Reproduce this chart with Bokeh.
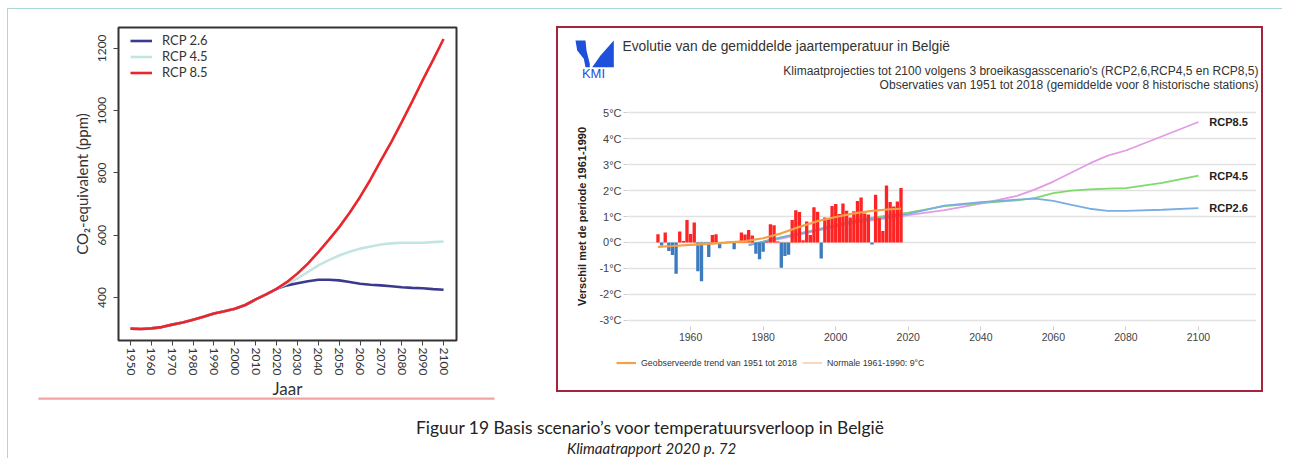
import math
from bokeh.plotting import figure
from bokeh.models import (Range1d, FixedTicker, PrintfTickFormatter, Legend, LegendItem,
                          Label, PolyAnnotation, BoxAnnotation, ColumnDataSource)
from bokeh.layouts import row, column
from bokeh.embed import file_html
from bokeh.resources import INLINE
from bokeh.core.properties import value

# ---------------- data: left chart (CO2-equivalent, ppm) ----------------
co2_years = [1950, 1955, 1960, 1965, 1970, 1975, 1980, 1985, 1990, 1995, 2000, 2005, 2010, 2015, 2020,
             2025, 2030, 2035, 2040, 2045, 2050, 2055, 2060, 2065, 2070, 2075, 2080, 2085, 2090, 2095, 2100]
co2_hist = [300, 299, 301, 305, 313, 320, 329, 338, 349, 356, 364, 376, 394, 410, 428]
co2_rcp26 = co2_hist + [439, 446, 452, 457, 457, 455, 450, 444, 441, 439, 436, 433, 431, 430, 427, 425]
co2_rcp45 = co2_hist + [445, 461, 482, 503, 520, 535, 547, 557, 564, 570, 574, 576, 576, 576, 578, 580]
co2_rcp85 = co2_hist + [450, 477, 509, 546, 585, 626, 672, 723, 779, 840, 900, 964, 1030, 1098, 1163, 1230]
co2_names = ["RCP 2.6", "RCP 4.5", "RCP 8.5"]
co2_xticks = list(range(1950, 2101, 10))
co2_yticks = [400, 600, 800, 1000, 1200]

# ---------------- data: right chart (temperature anomaly, °C) ----------------
obs_years = list(range(1951, 2019))
obs_anom = [0.31, -0.12, 0.38, -0.33, -0.49, -1.21, 0.42, 0.05, 0.86, 0.32,
            0.77, -1.12, -1.50, -0.06, -0.56, 0.29, 0.31, -0.23, -0.03, 0.02,
            0.03, -0.27, 0.02, 0.38, 0.30, 0.48, 0.27, -0.44, -0.65, -0.36,
            0.03, 0.70, 0.66, 0.03, -0.98, -0.53, -0.48, 0.86, 1.24, 1.17,
            0.08, 0.81, 0.29, 1.36, 1.18, -0.62, 0.96, 0.93, 1.41, 1.48,
            1.10, 1.50, 1.22, 0.96, 1.20, 1.60, 1.73, 1.12, 1.08, -0.08,
            1.84, 0.93, 0.44, 2.20, 1.56, 1.39, 1.58, 2.10]
trend_years = [1951, 1955, 1960, 1965, 1970, 1975, 1980, 1985, 1990, 1995, 2000, 2005, 2010, 2015, 2018]
trend_vals = [-0.17, -0.14, -0.10, -0.06, -0.01, 0.05, 0.16, 0.35, 0.60, 0.82, 0.98, 1.12, 1.22, 1.28, 1.30]
normal_years = [1961, 1990]
normal_vals = [0.0, 0.0]
proj_years = [1976, 1985, 1995, 2005, 2015, 2020, 2030, 2040, 2050, 2055, 2060, 2065, 2070, 2075, 2080, 2090, 2100]
proj_rcp85 = [-0.12, 0.15, 0.45, 0.75, 0.95, 1.05, 1.25, 1.50, 1.80, 2.05, 2.35, 2.70, 3.05, 3.35, 3.55, 4.10, 4.65]
proj_rcp45 = [-0.10, 0.20, 0.50, 0.85, 1.05, 1.15, 1.40, 1.52, 1.62, 1.72, 1.90, 2.00, 2.05, 2.08, 2.10, 2.30, 2.58]
proj_rcp26 = [-0.10, 0.18, 0.48, 0.80, 1.00, 1.10, 1.42, 1.55, 1.65, 1.69, 1.60, 1.45, 1.30, 1.22, 1.22, 1.26, 1.32]
proj_names = ["RCP8.5", "RCP4.5", "RCP2.6"]
legend_names = ["Geobserveerde trend van 1951 tot 2018", "Normale 1961-1990: 9°C"]
temp_yticks = [-3, -2, -1, 0, 1, 2, 3, 4, 5]
temp_xticks = [1960, 1980, 2000, 2020, 2040, 2060, 2080, 2100]

LATO = "Lato"
ARIAL = "Liberation Sans"
TREND_COLOR = "#f4a048"
NORMAL_COLOR = "#fbc9a0"

# ======================= LEFT FIGURE =======================
p1 = figure(width=540, height=393, x_range=Range1d(1944.25, 2106.2), y_range=Range1d(262, 1267),
            output_backend="svg", toolbar_location=None, frame_align=False,
            min_border_left=110, min_border_right=92, min_border_top=18, min_border_bottom=62)
p1.outline_line_color = "#333333"
p1.outline_line_width = 2
p1.grid.grid_line_color = None

l26 = p1.line(co2_years, co2_rcp26, line_color="#3b3a8f", line_width=2.6)
l45 = p1.line(co2_years, co2_rcp45, line_color="#c3e5e2", line_width=2.6)
l85 = p1.line(co2_years, co2_rcp85, line_color="#e8262c", line_width=2.6)

p1.xaxis.ticker = FixedTicker(ticks=co2_xticks)
p1.yaxis.ticker = FixedTicker(ticks=co2_yticks)
p1.xaxis.major_label_orientation = "vertical"
p1.yaxis.major_label_orientation = "vertical"
for ax in (p1.xaxis[0], p1.yaxis[0]):
    ax.axis_line_color = "#333333"
    ax.axis_line_width = 1
    ax.major_tick_line_color = "#444444"
    ax.major_tick_out = 5
    ax.major_tick_in = 0
    ax.minor_tick_line_color = None
    ax.major_label_text_font = LATO
    ax.major_label_text_font_size = "12px"
    ax.major_label_text_color = "#333333"
    ax.axis_label_text_font = LATO
    ax.axis_label_text_font_style = "normal"
    ax.axis_label_text_color = "#333333"
p1.xaxis.major_label_standoff = 2
p1.yaxis.major_label_standoff = 7
p1.xaxis.axis_label = "Jaar"
p1.xaxis.axis_label_text_font_size = "17px"
p1.xaxis.axis_label_standoff = 0
p1.yaxis.axis_label = "CO₂-equivalent (ppm)"
p1.yaxis.axis_label_text_font_size = "15px"
p1.yaxis.axis_label_standoff = 5

leg1 = Legend(items=[LegendItem(label=n, renderers=[r]) for n, r in zip(co2_names, [l26, l45, l85])],
              location=(12, 260))
leg1.border_line_color = None
leg1.background_fill_alpha = 0
leg1.label_text_font = LATO
leg1.label_text_font_size = "13px"
leg1.label_text_color = "#333333"
leg1.glyph_width = 22
leg1.glyph_height = 13
leg1.label_height = 13
leg1.label_standoff = 10
leg1.spacing = -4
leg1.padding = 0
leg1.margin = 0
p1.add_layout(leg1)

# ======================= RIGHT PANEL: header =======================
hdr = figure(width=703, height=70, x_range=Range1d(0, 703), y_range=Range1d(70, 0),
             output_backend="svg", toolbar_location=None, frame_align=False,
             min_border_left=0, min_border_right=0, min_border_top=0, min_border_bottom=0,
             x_axis_location=None, y_axis_location=None)
hdr.grid.grid_line_color = None
hdr.outline_line_color = None
logo_blue = "#1f50dc"
hdr.add_layout(PolyAnnotation(xs=[17, 27, 28, 31.3, 31.3, 27, 25.3, 18.7],
                              ys=[12, 12, 22, 35.3, 38.7, 38.7, 30.3, 22],
                              fill_color=logo_blue, fill_alpha=1, line_color=None))
hdr.add_layout(PolyAnnotation(xs=[55.3, 55.3, 33.7, 42], ys=[12, 38.7, 38.7, 27],
                              fill_color=logo_blue, fill_alpha=1, line_color=None))
hdr.add_layout(Label(x=35, y=45, text="KMI", text_align="center", text_baseline="middle",
                     text_font=ARIAL, text_font_size="13px", text_color=logo_blue))
hdr.add_layout(Label(x=64, y=18, text="Evolutie van de gemiddelde jaartemperatuur in België",
                     text_align="left", text_baseline="middle",
                     text_font=ARIAL, text_font_size="13.8px", text_color="#333333"))
hdr.add_layout(Label(x=700, y=42,
                     text="Klimaatprojecties tot 2100 volgens 3 broeikasgasscenario's (RCP2,6,RCP4,5 en RCP8,5)",
                     text_align="right", text_baseline="middle",
                     text_font=ARIAL, text_font_size="12px", text_color="#333333"))
hdr.add_layout(Label(x=700, y=56,
                     text="Observaties van 1951 tot 2018 (gemiddelde voor 8 historische stations)",
                     text_align="right", text_baseline="middle",
                     text_font=ARIAL, text_font_size="12px", text_color="#333333"))

# ======================= RIGHT PANEL: chart =======================
p2 = figure(width=703, height=258, x_range=Range1d(1942.6, 2116.0), y_range=Range1d(-3.25, 5.25),
            output_backend="svg", toolbar_location=None, frame_align=False,
            min_border_left=69, min_border_right=5, min_border_top=8, min_border_bottom=30)
p2.outline_line_color = None
p2.xgrid.grid_line_color = None
p2.ygrid.grid_line_color = "#e2e2e2"
p2.ygrid.grid_line_width = 1.5
p2.yaxis.ticker = FixedTicker(ticks=temp_yticks)
p2.yaxis.formatter = PrintfTickFormatter(format="%d°C")
p2.xaxis.ticker = FixedTicker(ticks=temp_xticks)
for ax in (p2.xaxis[0], p2.yaxis[0]):
    ax.axis_line_color = None
    ax.major_tick_line_color = "#cccccc"
    ax.major_tick_out = 4
    ax.major_tick_in = 0
    ax.minor_tick_line_color = None
    ax.major_label_text_font = ARIAL
    ax.major_label_text_color = "#444444"
    ax.major_label_standoff = 2
p2.xaxis.major_label_text_font_size = "10.5px"
p2.yaxis.major_label_text_font_size = "11px"
p2.yaxis.axis_label = "Verschil met de periode 1961-1990"
p2.yaxis.axis_label_text_font = ARIAL
p2.yaxis.axis_label_text_font_size = "11px"
p2.yaxis.axis_label_text_font_style = "bold"
p2.yaxis.axis_label_text_color = "#222222"
p2.yaxis.axis_label_standoff = 8

p2.line(normal_years, normal_vals, line_color=NORMAL_COLOR, line_width=1.5)
proj_colors = ["#e39be6", "#7fd96c", "#7aaee2"]
proj_series = [proj_rcp85, proj_rcp45, proj_rcp26]
for vals, col in zip(proj_series, proj_colors):
    p2.line(proj_years, vals, line_color=col, line_width=1.8)

bar_colors = ["#ff2424" if v >= 0 else "#3c7bbd" for v in obs_anom]
bsrc = ColumnDataSource(dict(x=obs_years, top=obs_anom, color=bar_colors))
p2.vbar(x="x", top="top", bottom=0, width=0.92, fill_color="color", line_color=None, source=bsrc)
p2.line(trend_years, trend_vals, line_color=TREND_COLOR, line_width=2.2)

lab_x = [proj_years[-1] + 3] * 3
lab_y = [s[-1] for s in proj_series]
p2.text(x=lab_x, y=lab_y, text=proj_names, text_align="left", text_baseline="middle",
        text_font=value(ARIAL), text_font_size="11px", text_font_style="bold", text_color="#222222")

# ======================= RIGHT PANEL: legend strip =======================
# same series as the chart; this strip's ranges keep them off-canvas so only the legend shows
lg = figure(width=703, height=34, x_range=Range1d(0, 1), y_range=Range1d(0, 1),
            output_backend="svg", toolbar_location=None, frame_align=False,
            min_border_left=0, min_border_right=0, min_border_top=0, min_border_bottom=0,
            x_axis_location=None, y_axis_location=None)
lg.grid.grid_line_color = None
lg.outline_line_color = None
rt = lg.line(trend_years, trend_vals, line_color=TREND_COLOR, line_width=2.2)
rn = lg.line(normal_years, normal_vals, line_color=NORMAL_COLOR, line_width=1.5)
leg2 = Legend(items=[LegendItem(label=legend_names[0], renderers=[rt]),
                     LegendItem(label=legend_names[1], renderers=[rn])],
              orientation="horizontal", location=(58, 21))
leg2.border_line_color = None
leg2.background_fill_alpha = 0
leg2.label_text_font = ARIAL
leg2.label_text_font_size = "8.8px"
leg2.label_text_color = "#333333"
leg2.glyph_width = 20
leg2.glyph_height = 13
leg2.label_height = 13
leg2.label_standoff = 5
leg2.spacing = 5
leg2.padding = 0
leg2.margin = 0
lg.add_layout(leg2)

right = column(hdr, p2, lg, styles={"border": "2px solid #a5243c"}, margin=(17, 0, 0, 8))
top = row(p1, right)

# ======================= caption =======================
cap = figure(width=1274, height=64, x_range=Range1d(8, 1282), y_range=Range1d(458, 394),
             output_backend="svg", toolbar_location=None, frame_align=False,
             min_border_left=0, min_border_right=0, min_border_top=0, min_border_bottom=0,
             x_axis_location=None, y_axis_location=None, margin=(-8, 0, 0, 0))
cap.grid.grid_line_color = None
cap.outline_line_color = None
cap.background_fill_alpha = 0
cap.border_fill_alpha = 0
cap.add_layout(BoxAnnotation(left=38, right=494, top=397, bottom=399.2,
                             fill_color="#f4a3a3", fill_alpha=1, line_color=None))
cap.add_layout(Label(x=650, y=427, text="Figuur 19 Basis scenario’s voor temperatuursverloop in België",
                     text_align="center", text_baseline="middle",
                     text_font=LATO, text_font_size="17.4px", text_color="#222222"))
cap.add_layout(Label(x=651, y=447, text="Klimaatrapport 2020 p. 72",
                     text_align="center", text_baseline="middle",
                     text_font=LATO, text_font_size="15px", text_font_style="italic",
                     text_color="#222222"))

layout = column(top, cap, margin=(8, 0, 0, 7),
                styles={"border-top": "1px solid #aad9d5", "border-left": "1px solid #aad9d5"})

open("out.html", "w").write(file_html(layout, INLINE))
